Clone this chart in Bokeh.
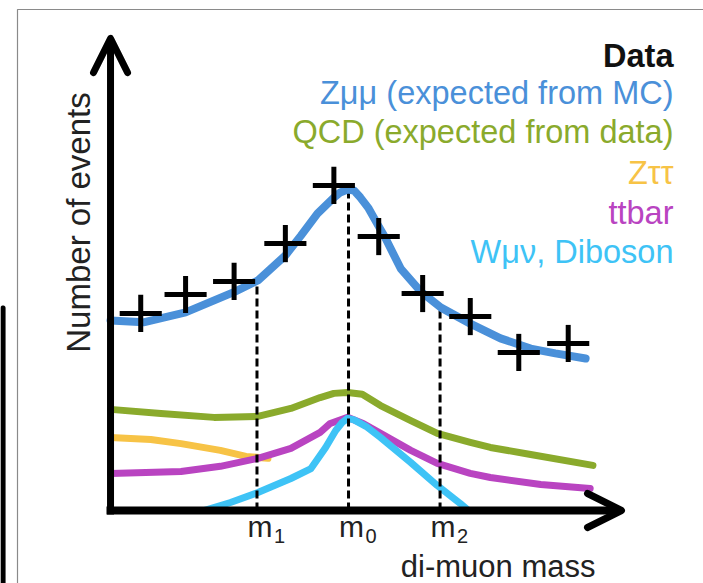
import numpy as np
from bokeh.plotting import figure
from bokeh.models import Range1d, Label, Arrow, OpenHead, BoxAnnotation
from bokeh.core.properties import value
from bokeh.embed import file_html
from bokeh.resources import INLINE

# ---------------- data (schematic di-muon mass spectrum) ----------------
data_mass = [68.3, 73.2, 78.5, 84.1, 89.4, 94.3, 99.1, 104.3, 109.6, 115.0]
data_events = [616, 675, 716, 834, 1016, 856, 678, 606, 494, 522]
data_mass_err = 2.3
data_events_err = 58

zmumu_mass = [65.0, 68.6, 73.2, 78.6, 81.1, 84.1, 85.8, 87.6, 88.5, 89.4, 90.1, 90.9,
              91.6, 92.3, 93.2, 94.3, 95.0, 96.7, 98.9, 101.1, 104.3, 107.6, 110.9,
              113.6, 116.9]
zmumu_events = [594, 588, 619, 684, 719, 797, 859, 928, 953, 978, 994, 1003,
                1000, 978, 944, 888, 853, 756, 684, 634, 584, 538, 506,
                491, 475]

qcd_mass = [65.0, 70.5, 76.3, 81.1, 84.7, 87.9, 89.4, 90.9, 92.5, 94.5, 97.8, 100.7,
            104.3, 106.5, 110.9, 117.7]
qcd_events = [316, 303, 291, 294, 319, 353, 366, 369, 363, 328, 281, 241,
              213, 197, 175, 141]

ztautau_mass = [65.0, 69.4, 72.7, 77.0, 79.8, 82.2]
ztautau_events = [228, 222, 209, 188, 169, 163]

ttbar_mass = [65.0, 72.7, 77.0, 81.1, 84.7, 87.9, 89.0, 90.9, 92.6, 94.5, 97.8, 100.7,
              104.3, 106.5, 112.0, 117.4]
ttbar_events = [116, 122, 138, 163, 194, 244, 272, 291, 272, 241, 188, 147,
                116, 103, 81, 69]

wmunu_mass = [75.2, 78.1, 81.1, 84.7, 86.9, 88.5, 89.6, 90.3, 90.9, 91.6, 92.9, 94.5,
              97.8, 100.7, 103.2, 104.1]
wmunu_events = [0, 25, 56, 100, 131, 197, 250, 275, 288, 283, 263, 228,
                150, 78, 22, 0]

tick_mass = [81.0, 91.0, 101.0]
tick_main = ["m", "m", "m"]
tick_sub = ["1", "0", "2"]

legend_texts = ["Data", "Z\u03bc\u03bc (expected from MC)", "QCD (expected from data)",
                "Z\u03c4\u03c4", "ttbar", "W\u03bc\u03bd, Diboson"]

# ---------------- styles ----------------
C_BLUE = "#4a90d9"
C_GREEN = "#8aaa2c"
C_ORANGE = "#f7c346"
C_PURPLE = "#b944c1"
C_CYAN = "#3ec3f6"
legend_colors = ["#111111", C_BLUE, C_GREEN, C_ORANGE, C_PURPLE, C_CYAN]
FONT = "Liberation Sans"

W, H = 703, 583
X_START, X_END = 52.98, 129.78
Y_START, Y_END = -228.125, 1593.75


def xd(px):
    """picture pixel x -> data x"""
    return X_START + px / W * (X_END - X_START)


def yd(py):
    """picture pixel y -> data y"""
    return Y_END - py / H * (Y_END - Y_START)


p = figure(width=W, height=H, output_backend="svg", toolbar_location=None,
           x_range=Range1d(X_START, X_END), y_range=Range1d(Y_START, Y_END),
           x_axis_location=None, y_axis_location=None, min_border=0)
p.grid.visible = False
p.outline_line_color = None
p.background_fill_color = "white"
p.border_fill_color = "white"

# screenshot frame artefacts
p.line([xd(17), xd(17), xd(760)], [yd(700), yd(9), yd(9)],
       line_color="#8a8a8a", line_width=1.2)
p.add_layout(BoxAnnotation(left=xd(0), right=xd(5), top=yd(305), bottom=yd(700),
                           fill_color="black", fill_alpha=1, line_color="black",
                           line_width=0.5, border_radius=3))

# background curves
lw = 7
p.line(qcd_mass, qcd_events, line_color=C_GREEN, line_width=lw, line_cap="round", line_join="round")
p.line(ztautau_mass, ztautau_events, line_color=C_ORANGE, line_width=lw, line_cap="round", line_join="round")
p.line(ttbar_mass, ttbar_events, line_color=C_PURPLE, line_width=lw, line_cap="round", line_join="round")
p.line(wmunu_mass, wmunu_events, line_color=C_CYAN, line_width=lw, line_cap="butt", line_join="round")

# dashed markers up to the Z->mumu curve
tick_top = list(np.interp(tick_mass, zmumu_mass, zmumu_events))
p.segment(x0=tick_mass, y0=[0] * len(tick_mass), x1=tick_mass, y1=tick_top,
          line_color="black", line_width=3, line_dash="8 4")

# Z->mumu expectation
p.line(zmumu_mass, zmumu_events, line_color=C_BLUE, line_width=8, line_cap="round", line_join="round")

# data crosses
dm = np.array(data_mass)
de = np.array(data_events)
p.segment(x0=dm - data_mass_err, y0=de, x1=dm + data_mass_err, y1=de,
          line_color="black", line_width=5)
p.segment(x0=dm, y0=de - data_events_err, x1=dm, y1=de + data_events_err,
          line_color="black", line_width=5)

# axes as arrows
x0 = zmumu_mass[0]
p.add_layout(Arrow(end=OpenHead(size=34, line_width=7, line_cap="round", line_join="round"),
                   x_start=x0, y_start=yd(514), x_end=x0, y_end=yd(38),
                   line_width=7, line_color="black"))
p.add_layout(Arrow(end=OpenHead(size=34, line_width=7, line_cap="round", line_join="round"),
                   x_start=xd(106), y_start=0, x_end=xd(621), y_end=0,
                   line_width=8, line_color="black"))

# tick labels m1, m0, m2
p.text(x=tick_mass, y=[yd(526)] * 3, text=tick_main, text_font=value(FONT),
       text_font_size="30px", text_align="center", text_baseline="alphabetic",
       x_offset=3, text_color="#222222")
p.text(x=tick_mass, y=[yd(535)] * 3, text=tick_sub, text_font=value(FONT),
       text_font_size="20px", text_align="left", text_baseline="alphabetic",
       x_offset=17, text_color="#222222")

# axis titles
p.add_layout(Label(x=xd(595), y=yd(566), text="di-muon mass", text_font=FONT,
                   text_font_size="31px", text_align="right", text_baseline="alphabetic",
                   text_color="#222222"))
p.add_layout(Label(x=xd(78), y=yd(222), text="Number of events", text_font=FONT,
                   text_font_size="33px", text_align="center", text_baseline="middle",
                   angle=np.pi / 2, text_color="#222222"))

# legend text
baselines = [55, 92, 131, 172, 212, 251]
for txt, col, b in zip(legend_texts, legend_colors, baselines):
    p.add_layout(Label(x=xd(673), y=yd(b), text=txt, text_font=FONT,
                       text_font_size="32.5px", text_align="right", text_baseline="alphabetic",
                       text_color=col, text_font_style="bold" if txt == "Data" else "normal"))

open("out.html", "w").write(file_html(p, INLINE))
